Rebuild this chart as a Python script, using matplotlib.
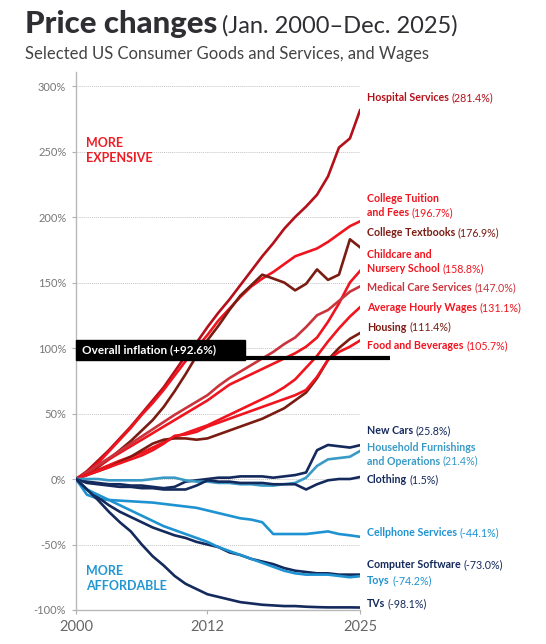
import matplotlib
matplotlib.use('Agg')
import matplotlib.pyplot as plt
from matplotlib.patches import Rectangle

plt.rcParams['font.family'] = ['Lato', 'DejaVu Sans']

# Jan of each year 2000-2025, then Dec 2025
years = list(range(2000, 2026)) + [2025.92]

# percent change since Jan 2000
hospital = [0, 6, 14, 22, 31, 40, 50, 60, 70, 82, 94, 104, 116, 127, 137, 148, 159, 170, 180, 191, 200, 208, 217, 231, 253, 260, 281.4]
tuition = [0, 5, 12, 21, 30, 39, 49, 58, 68, 79, 90, 100, 110, 121, 130, 139, 147, 153, 158, 164, 170, 173, 176, 181, 187, 193, 196.7]
textbooks = [0, 4, 9, 15, 22, 29, 37, 45, 55, 67, 80, 94, 106, 117, 129, 140, 148, 156, 153, 150, 144, 149, 160, 152, 156, 183, 176.9]
childcare = [0, 5, 10, 15, 20, 25, 30, 35, 40, 45, 50, 55, 60, 66, 72, 76, 80, 84, 88, 92, 96, 101, 108, 120, 134, 150, 158.8]
medical = [0, 5, 10.5, 16, 21.5, 27, 32.5, 38, 43.5, 49, 54, 59, 64, 71, 77, 82, 87, 92, 97, 103, 108, 116, 125, 129, 136, 143, 147.0]
wages = [0, 3.5, 7, 10.5, 14, 17, 20, 24, 28, 32, 35, 38, 41, 45, 49, 53, 57, 61, 65, 70, 76, 85, 94, 105, 115, 124, 131.1]
housing = [0, 3, 6, 9, 13, 17, 22, 27, 30, 31, 31, 30, 31, 34, 37, 40, 43, 46, 50, 54, 60, 66, 77, 91, 100, 107, 111.4]
food = [0, 3, 6, 9, 12, 15, 18, 22, 27, 33, 34, 36, 40, 43, 46, 49, 52, 55, 58, 61, 64, 68, 78, 91, 97, 101, 105.7]
new_cars = [0, -2, -3, -4, -4, -5, -5, -6, -7, -6, -2, -1, 0, 1, 1, 2, 2, 2, 1, 2, 3, 5, 22, 26, 25, 24, 25.8]
furnishings = [0, 0, 0, -1, -1, -1, -1, 0, 1, 1, -1, -2, -2, -3, -3, -4, -4, -5, -5, -4, -3, 1, 10, 15, 16, 17, 21.4]
clothing = [0, -3, -4, -5, -6, -6, -7, -7, -8, -8, -8, -5, -1, -2, -2, -3, -3, -3, -4, -4, -4, -8, -4, -1, 0, 0, 1.5]
cellphone = [0, -12, -15, -16, -16.5, -17, -17.5, -18, -19, -20, -21, -22, -24, -26, -28, -30, -31, -33, -42, -42, -42, -42, -41, -40, -42, -43, -44.1]
software = [0, -8, -14, -20, -25, -29, -33, -37, -40, -43, -45, -48, -50, -52, -56, -58, -61, -63, -65, -68, -70, -71, -72, -72, -73, -73, -73.0]
toys = [0, -8, -12, -16, -20, -24, -28, -32, -36, -39, -42, -45, -48, -52, -55, -58, -61, -64, -67, -70, -72, -73, -73, -73, -74, -75, -74.2]
tvs = [0, -8, -16, -25, -33, -40, -50, -59, -66, -74, -80, -84, -88, -90, -92, -94, -95, -96, -96.5, -97, -97, -97.5, -97.8, -98, -98, -98, -98.1]

overall_inflation = 92.6

RED = '#f0141e'
DARKRED = '#b3101a'
BROWN = '#7a1c12'
ROSE = '#c9343c'
NAVY = '#14295c'
LBLUE = '#3a9ac6'
CYAN = '#1f93d2'

# (name lines, series, line colour, label y position in %)
series = [
    (['Hospital Services'], hospital, DARKRED, 291),
    (['College Tuition', 'and Fees'], tuition, RED, 209),
    (['College Textbooks'], textbooks, BROWN, 188),
    (['Childcare and', 'Nursery School'], childcare, RED, 166),
    (['Medical Care Services'], medical, ROSE, 146),
    (['Average Hourly Wages'], wages, RED, 131),
    (['Housing'], housing, BROWN, 116),
    (['Food and Beverages'], food, RED, 102),
    (['New Cars'], new_cars, NAVY, 37),
    (['Household Furnishings', 'and Operations'], furnishings, LBLUE, 19),
    (['Clothing'], clothing, NAVY, -0.5),
    (['Cellphone Services'], cellphone, CYAN, -41),
    (['Computer Software'], software, NAVY, -65.5),
    (['Toys'], toys, CYAN, -77.5),
    (['TVs'], tvs, NAVY, -95),
]

W, H = 546, 644
fig = plt.figure(figsize=(W / 100, H / 100), dpi=100)
ax = fig.add_axes([76 / W, 1 - 610 / H, 284 / W, 538 / H])
renderer = fig.canvas.get_renderer()

for names, vals, col, ly in series:
    ax.plot(years, vals, color=col, lw=1.9, solid_joinstyle='round', zorder=3)

ax.set_xlim(2000, 2025.92)
ax.set_ylim(-100, 310.7)
ax.set_yticks(range(-100, 301, 50))
ax.set_yticklabels([f'{v}%' for v in range(-100, 301, 50)])
ax.set_xticks([2000, 2012, 2025.92])
ax.set_xticklabels(['2000', '2012', '2025'])
ax.tick_params(axis='y', length=3, width=0.8, color='#b0b0b0', labelsize=8, labelcolor='#777777', pad=4)
ax.tick_params(axis='x', length=3, width=0.8, color='#b0b0b0', labelsize=10.5, labelcolor='#666666', pad=4)
for s in ['top', 'right']:
    ax.spines[s].set_visible(False)
for s in ['left', 'bottom']:
    ax.spines[s].set_color('#b8b8b8')
    ax.spines[s].set_linewidth(1)
ax.yaxis.grid(True, linestyle=(0, (1, 1)), color='#c4c4c4', lw=0.7)
ax.set_axisbelow(True)

# overall inflation marker
ax.plot([2000, 2028.7], [overall_inflation, overall_inflation], color='black', lw=3,
        clip_on=False, zorder=6, solid_capstyle='butt')
ax.add_patch(Rectangle((2000, 91.2), 15.4, 14.6, color='black', zorder=6, clip_on=False))
ax.text(2000.55, 98.6, f'Overall inflation (+{overall_inflation}%)', color='white',
        fontsize=8.5, fontweight='bold', va='center', zorder=7)

ax.text(2000.9, 250.6, 'MORE\nEXPENSIVE', color='#ee1c25', fontsize=9, fontweight='bold',
        va='center', linespacing=1.25)
ax.text(2000.9, -75.8, 'MORE\nAFFORDABLE', color='#2196d3', fontsize=9, fontweight='bold',
        va='center', linespacing=1.25)

# right hand labels: bold name + regular value
trans = ax.get_yaxis_transform()
lh = 10.2
for names, vals, col, ly in series:
    n = len(names)
    for i, name in enumerate(names):
        dy = (n - 1) / 2 * lh - i * lh
        t = ax.annotate(name, xy=(1, ly), xycoords=trans, xytext=(5, dy),
                        textcoords='offset points', color=col, fontsize=7.7,
                        fontweight='bold', va='center', ha='left', annotation_clip=False)
    w = t.get_window_extent(renderer).width * 72 / fig.dpi
    ax.annotate(f'({vals[-1]:.1f}%)', xy=(1, ly), xycoords=trans, xytext=(5 + w + 2, dy),
                textcoords='offset points', color=col, fontsize=7.7, va='center',
                ha='left', annotation_clip=False)

# title
t1 = fig.text(25 / W, 1 - 33 / H, 'Price changes', fontsize=22.5, fontweight='black',
              color='#2e2e33', va='baseline')
w1 = t1.get_window_extent(renderer).width
fig.text((25 + w1 + 5) / W, 1 - 33 / H, '(Jan. 2000\u2013Dec. 2025)', fontsize=17,
         fontweight='normal', color='#2e2e33', va='baseline')
fig.text(25 / W, 1 - 59 / H, 'Selected US Consumer Goods and Services, and Wages',
         fontsize=12, color='#444444', va='baseline')

fig.savefig('out.png', dpi=100)
